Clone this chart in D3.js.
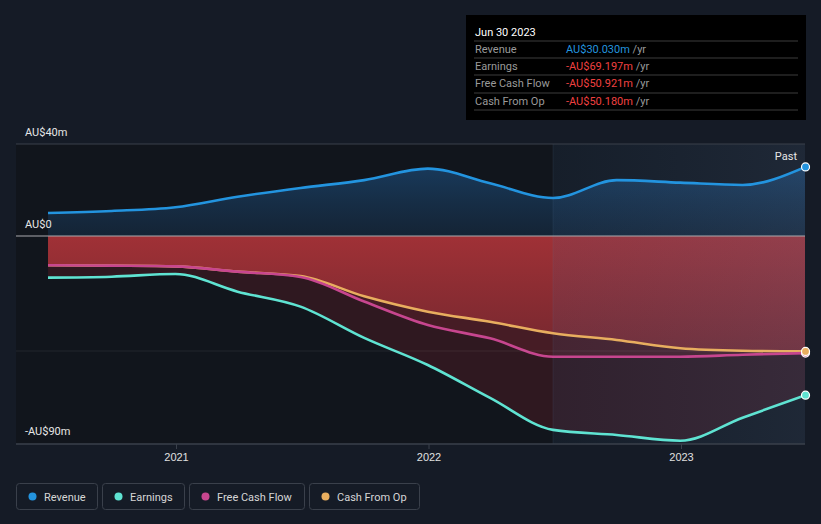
<!DOCTYPE html>
<html><head><meta charset="utf-8">
<script src="https://cdn.jsdelivr.net/npm/d3@7"></script>
<style>
html,body{margin:0;padding:0;background:#151b26;}
svg{display:block;font-family:Roboto,"Noto Sans",sans-serif;}
</style></head>
<body><svg id="c" width="821" height="524"></svg>
<script>
const dates = ["2020-06-30","2020-09-30","2020-12-31","2021-03-31","2021-06-30","2021-09-30","2021-12-31","2022-03-31","2022-06-30","2022-09-30","2022-12-31","2023-03-31","2023-06-30"];
const revenue = [10.0, 10.9, 12.5, 17.1, 20.9, 24.3, 29.3, 22.9, 16.5, 24.3, 23.2, 22.2, 30.03];
const earnings = [-18.1, -17.7, -16.5, -24.2, -30.7, -44.3, -56.1, -70.4, -84.3, -86.5, -89.0, -79.0, -69.197];
const fcf = [-12.7, -12.9, -13.2, -15.5, -17.8, -28.5, -38.7, -44.5, -52.5, -52.5, -52.5, -51.6, -50.921];
const cfo = [-12.7, -12.9, -13.2, -15.5, -17.4, -26.2, -32.9, -37.3, -42.3, -45.2, -48.8, -49.9, -50.18];
const yTicks = [40, 0, -90];
const yTickLabels = ["AU$40m", "AU$0", "-AU$90m"];
const xTicks = ["2021-01-01", "2022-01-01", "2023-01-01"];
const xTickLabels = ["2021", "2022", "2023"];
const pastStart = "2022-06-30";
const seriesNames = ["Revenue", "Earnings", "Free Cash Flow", "Cash From Op"];
const seriesColors = ["#2394df", "#5fe3d2", "#c7468f", "#e8ae5f"];
const tipDate = "Jun 30 2023";
const tipValues = ["AU$30.030m", "-AU$69.197m", "-AU$50.921m", "-AU$50.180m"];

const P = d3.timeParse("%Y-%m-%d");
const svg = d3.select("#c");
const x = d3.scaleTime().domain([P("2021-01-01"), P("2023-01-01")]).range([176, 681]);
const y = d3.scaleLinear().domain([-90, 40]).range([443, 144]);
const L = 16, R = 805;
const dd = dates.map(P);
const mk = arr => arr.map((v, i) => ({d: dd[i], v}));
const S = [mk(revenue), mk(earnings), mk(fcf), mk(cfo)];
const xp = x(P(pastStart));

const defs = svg.append("defs");
function lg(id, stops, x2=0, y2=1){
  const g = defs.append("linearGradient").attr("id", id).attr("x1",0).attr("y1",0).attr("x2",x2).attr("y2",y2);
  stops.forEach(s => g.append("stop").attr("offset", s[0]).attr("stop-color", s[1]).attr("stop-opacity", s[2]));
}
lg("revG", [[0, "#1b4670", 0.75], [1, "#17304a", 0.55]]);
lg("redG", [[0, "#a53237", 0.95], [1, "#7f2a31", 0.85]]);
lg("pastG", [[0, "#3f6a9c", 0.11], [1, "#5a7aa8", 0.19]], 1, 0);
defs.append("clipPath").attr("id", "plotClip").append("rect").attr("x", L).attr("y", 144).attr("width", R - L).attr("height", 300);

// plot background
svg.append("rect").attr("x", L).attr("y", 144).attr("width", R - L).attr("height", 300).attr("fill", "#11151c");

const curve = d3.curveMonotoneX;
const area0 = d3.area().x(d => x(d.d)).y0(y(0)).y1(d => y(d.v)).curve(curve);
const line = d3.line().x(d => x(d.d)).y(d => y(d.v)).curve(curve);

const g = svg.append("g").attr("clip-path", "url(#plotClip)");
g.append("path").datum(S[0]).attr("d", area0).attr("fill", "url(#revG)");
g.append("path").datum(S[1]).attr("d", area0).attr("fill", "#3a1a22").attr("fill-opacity", 0.75);
g.append("path").datum(S[2]).attr("d", area0).attr("fill", "#5a2029").attr("fill-opacity", 0.55);
g.append("path").datum(S[3]).attr("d", area0).attr("fill", "url(#redG)");

// past overlay
g.append("rect").attr("x", xp).attr("y", 144).attr("width", R - xp).attr("height", 300).attr("fill", "url(#pastG)");
g.append("line").attr("x1", xp).attr("x2", xp).attr("y1", 144).attr("y2", 444).attr("stroke", "#6a8ab0").attr("stroke-opacity", 0.12).attr("stroke-width", 1);

// gridlines
svg.append("line").attr("x1", L).attr("x2", R).attr("y1", y(40)).attr("y2", y(40)).attr("stroke", "#3a404b");
svg.append("line").attr("x1", L).attr("x2", R).attr("y1", y(-50)).attr("y2", y(-50)).attr("stroke", "#ffffff").attr("stroke-opacity", 0.07);
svg.append("line").attr("x1", L).attr("x2", R).attr("y1", y(0)).attr("y2", y(0)).attr("stroke", "#a9a9ae").attr("stroke-width", 1.2);

// x axis
const xa = svg.append("g").attr("transform", "translate(0,444)")
  .call(d3.axisBottom(x).tickValues(xTicks.map(P)).tickFormat((d, i) => xTickLabels[i]).tickSize(5).tickPadding(4));
xa.select(".domain").remove();
svg.append("line").attr("x1", L).attr("x2", R).attr("y1", 444).attr("y2", 444).attr("stroke", "#3a404b").attr("stroke-width", 1.5);
xa.selectAll(".tick line").attr("stroke", "#3a404b");
xa.selectAll(".tick text").attr("fill", "#e0e0e0").attr("font-size", 11);

// y labels
svg.selectAll(".ylab").data(yTicks).enter().append("text")
  .attr("x", 25).attr("y", d => y(d) - 8).attr("fill", "#e6e6e6").attr("font-size", 11)
  .text((d, i) => yTickLabels[i]);

// lines
[3, 2, 1, 0].forEach(i => {
  g.append("path").datum(S[i]).attr("d", line).attr("fill", "none").attr("stroke", seriesColors[i]).attr("stroke-width", 2.6);
});
// end dots
[0, 1, 2, 3].forEach(i => {
  const last = S[i][S[i].length - 1];
  svg.append("circle").attr("cx", x(last.d)).attr("cy", y(last.v)).attr("r", 4)
    .attr("fill", seriesColors[i]).attr("stroke", "#ffffff").attr("stroke-width", 1.2);
});
svg.append("text").attr("x", 797).attr("y", 160).attr("text-anchor", "end").attr("fill", "#e6e6e6").attr("font-size", 11).text("Past");

// tooltip
const tp = svg.append("g").attr("transform", "translate(466,15)");
tp.append("rect").attr("width", 340).attr("height", 105).attr("fill", "#000000");
tp.append("text").attr("x", 9).attr("y", 21).attr("fill", "#ffffff").attr("font-size", 11).text(tipDate);
const rowY = [26, 43, 60, 78, 95];
rowY.forEach(ry => tp.append("line").attr("x1", 8).attr("x2", 332).attr("y1", ry).attr("y2", ry).attr("stroke", "#3c3c3c"));
seriesNames.forEach((n, i) => {
  const ty = rowY[i] + 12;
  tp.append("text").attr("x", 9).attr("y", ty).attr("fill", "#9a9a9a").attr("font-size", 11).text(n);
  const t = tp.append("text").attr("x", 100).attr("y", ty).attr("font-size", 11);
  t.append("tspan").attr("fill", i === 0 ? "#2394df" : "#f04040").text(tipValues[i]);
  t.append("tspan").attr("fill", "#9a9a9a").text(" /yr");
});

// legend
const lgx = [16, 102, 189, 309];
const lgw = [81, 82, 115, 110];
seriesNames.forEach((n, i) => {
  const lgg = svg.append("g").attr("transform", `translate(${lgx[i]},483)`);
  lgg.append("rect").attr("x", 0.5).attr("y", 0.5).attr("width", lgw[i]).attr("height", 26).attr("rx", 3)
    .attr("fill", "none").attr("stroke", "#3a404b");
  lgg.append("circle").attr("cx", 16.5).attr("cy", 13.5).attr("r", 4).attr("fill", seriesColors[i]);
  lgg.append("text").attr("x", 28).attr("y", 17.5).attr("fill", "#d6d6d6").attr("font-size", 11).text(n);
});
</script></body></html>
